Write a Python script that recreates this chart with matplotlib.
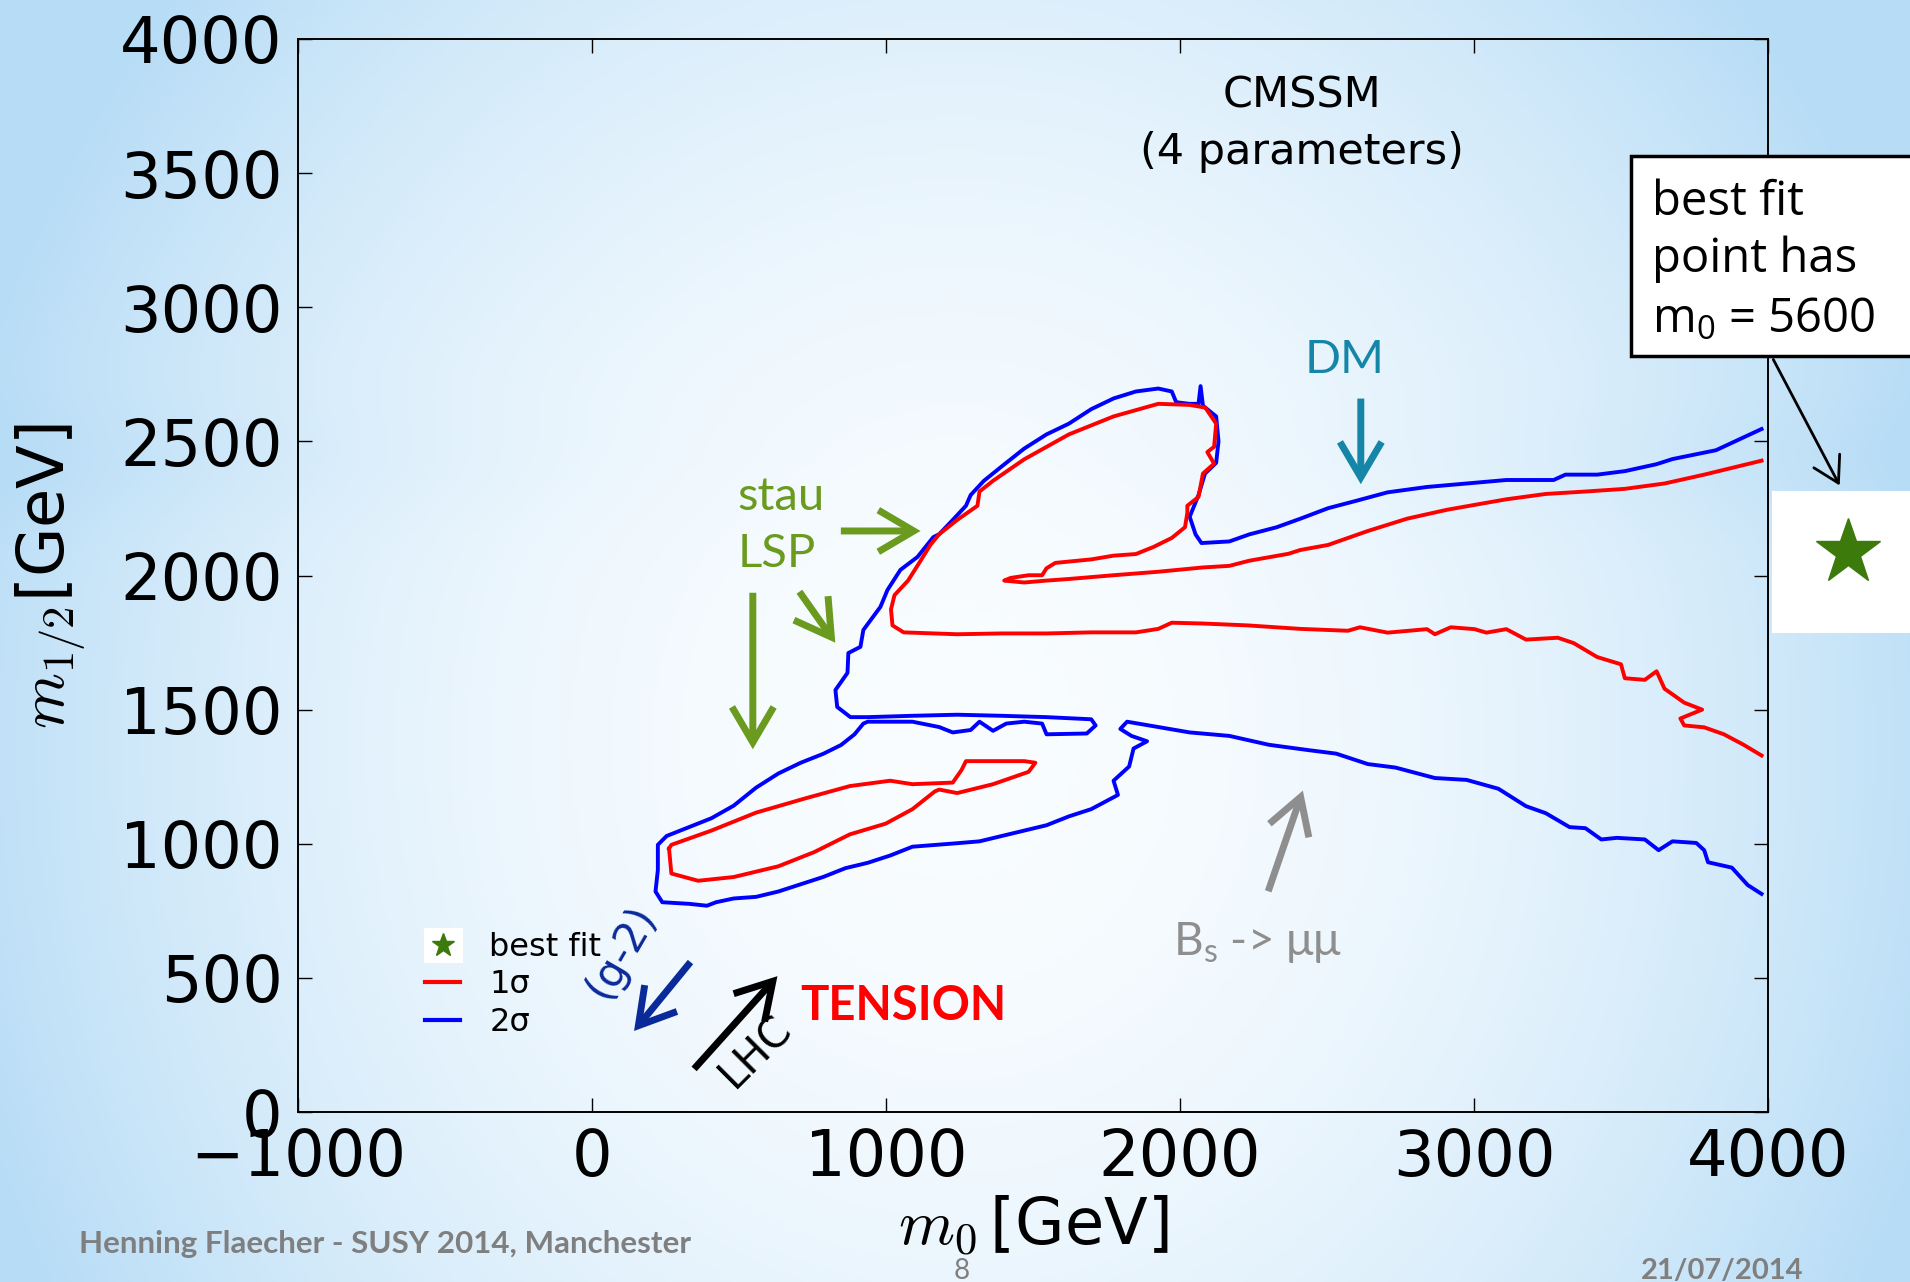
import matplotlib.pyplot as plt
import numpy as np
from matplotlib.patches import Rectangle, FancyArrowPatch
from matplotlib.lines import Line2D

# 2 sigma contour, one open line: upper right edge -> round the islands -> lower right edge
blue_pts = [(3978, 2546), (3823, 2467), (3675, 2434), (3621, 2415), (3513, 2389), (3419, 2376),
            (3311, 2376), (3271, 2356), (3110, 2356), (2975, 2343), (2840, 2330), (2706, 2310),
            (2598, 2278), (2504, 2251), (2410, 2212), (2329, 2180), (2235, 2153), (2168, 2127),
            (2073, 2121), (2053, 2153), (2033, 2219),
            (2063, 2300), (2085, 2380), (2123, 2420), (2131, 2500), (2123, 2593), (2078, 2633),
            (2070, 2706), (2063, 2640), (2032, 2640), (1987, 2646), (1972, 2686), (1926, 2697),
            (1850, 2686), (1774, 2660), (1698, 2620), (1622, 2566), (1546, 2526), (1470, 2473),
            (1394, 2407), (1333, 2353), (1288, 2300), (1272, 2260), (1227, 2207), (1181, 2154),
            (1161, 2143), (1107, 2069), (1049, 2021), (1005, 1946), (981, 1883), (923, 1797),
            (913, 1734), (872, 1711), (869, 1637), (828, 1573), (834, 1510), (879, 1472),
            (938, 1472), (1090, 1477), (1242, 1481), (1394, 1477), (1546, 1472), (1698, 1464),
            (1713, 1441), (1683, 1411), (1546, 1408), (1531, 1448), (1470, 1455), (1409, 1448),
            (1364, 1421), (1318, 1455), (1288, 1424), (1227, 1415), (1181, 1435), (1090, 1455),
            (938, 1455), (923, 1448),
            (893, 1408), (847, 1368), (786, 1335), (710, 1302), (634, 1262), (558, 1209),
            (482, 1142), (406, 1095), (330, 1062), (254, 1029), (224, 996), (224, 902),
            (216, 822), (239, 782), (330, 776), (391, 769), (422, 782), (482, 796), (558, 802),
            (634, 822), (710, 849), (786, 876), (862, 909), (938, 929), (1014, 956), (1090, 989),
            (1242, 1002), (1318, 1009), (1394, 1029), (1470, 1049), (1546, 1069), (1622, 1102),
            (1698, 1129), (1789, 1182), (1774, 1235), (1827, 1288), (1842, 1355), (1888, 1382),
            (1835, 1402), (1797, 1428), (1820, 1455), (1926, 1435), (2033, 1415), (2168, 1402),
            (2302, 1369), (2437, 1349), (2531, 1336), (2639, 1297), (2733, 1284), (2867, 1245),
            (2975, 1238), (3083, 1205), (3177, 1140), (3244, 1114), (3325, 1062), (3379, 1058),
            (3433, 1016), (3486, 1022), (3581, 1016), (3628, 976), (3675, 1009), (3756, 1003),
            (3783, 976), (3796, 931), (3877, 911), (3931, 846), (3978, 813)]

# 1 sigma, open line: upper branch -> tongue -> top loop -> lower edge to the right
red_upper_pts = [(3978, 2428), (3783, 2376), (3648, 2343), (3513, 2323), (3379, 2313), (3244, 2304),
                 (3110, 2284), (3042, 2271), (2908, 2245), (2773, 2212), (2639, 2166), (2504, 2114),
                 (2409, 2095), (2369, 2081), (2235, 2055), (2168, 2036), (2078, 2030), (1926, 2014),
                 (1774, 2001), (1622, 1987), (1546, 1981), (1470, 1974), (1402, 1981),
                 (1424, 1991), (1485, 2001), (1531, 2001), (1546, 2027), (1576, 2047), (1698, 2060),
                 (1774, 2074), (1850, 2080), (1911, 2107), (1972, 2140), (2017, 2180), (2025, 2234),
                 (2025, 2260), (2063, 2293), (2078, 2380), (2116, 2417), (2093, 2460), (2116, 2480),
                 (2123, 2566), (2086, 2626), (2032, 2636), (1926, 2640), (1774, 2593), (1622, 2526),
                 (1470, 2433), (1364, 2353), (1318, 2313), (1311, 2260), (1242, 2207), (1181, 2154),
                 (1151, 2114), (1121, 2061), (1075, 1981), (1029, 1927), (1017, 1874), (1022, 1814),
                 (1060, 1788), (1242, 1781), (1394, 1784), (1546, 1784), (1698, 1788), (1850, 1788),
                 (1926, 1801), (1972, 1824), (2078, 1821), (2230, 1814), (2409, 1801), (2571, 1794),
                 (2612, 1807), (2706, 1787), (2840, 1800), (2867, 1781), (2921, 1807), (3002, 1800),
                 (3042, 1787), (3110, 1800), (3177, 1761), (3285, 1768), (3339, 1748), (3419, 1696),
                 (3500, 1669), (3513, 1617), (3581, 1611), (3621, 1643), (3648, 1578), (3715, 1526),
                 (3776, 1500), (3702, 1467), (3715, 1441), (3783, 1434), (3850, 1408), (3917, 1369),
                 (3978, 1329)]

# 1 sigma, closed island in the stau strip
red_lower_pts = [(262, 982), (270, 889), (361, 862), (482, 876), (634, 916), (756, 969), (877, 1035),
                 (999, 1075), (1090, 1129), (1166, 1195), (1181, 1202), (1242, 1189), (1364, 1222),
                 (1485, 1268), (1508, 1302), (1470, 1308), (1272, 1308), (1257, 1275), (1227, 1228),
                 (1090, 1222), (1014, 1235), (877, 1215), (725, 1169), (558, 1116), (406, 1049),
                 (270, 996), (262, 982)]

xticks = [-1000, 0, 1000, 2000, 3000, 4000]
yticks = [0, 500, 1000, 1500, 2000, 2500, 3000, 3500, 4000]
legend_labels = ['best fit', '1σ', '2σ']

W, H = 1910, 1282
fig = plt.figure(figsize=(W / 100, H / 100), dpi=100)

# slide background gradient
bg = fig.add_axes([0, 0, 1, 1])
yy, xx = np.mgrid[0:1:300j, 0:1:450j]
r = np.sqrt(((xx - 0.5) / 0.54) ** 2 + ((yy - 0.58) / 0.9) ** 2)
t = np.clip(r, 0, 1) ** 2.0
t = np.clip(t + 0.12 * np.exp(-((yy - 0.36) / 0.05) ** 2) * (np.abs(xx - 0.5) * 2) ** 1.5, 0, 1)
c0 = np.array([0.975, 0.99, 1.0])
c1 = np.array([0.72, 0.865, 0.965])
img = c0 * (1 - t[..., None]) + c1 * t[..., None]
bg.imshow(img, extent=[0, 1, 0, 1], aspect='auto', origin='upper')
bg.axis('off')

ax = fig.add_axes([298 / W, 1 - 1112 / H, 1470 / W, 1073 / H])
ax.set_facecolor('none')

bx, by = np.array(blue_pts).T
rx, ry = np.array(red_upper_pts).T
lx, ly = np.array(red_lower_pts).T
ax.plot(bx, by, color='blue', lw=2.8, solid_joinstyle='round')
ax.plot(rx, ry, color='red', lw=2.8, solid_joinstyle='round')
ax.plot(lx, ly, color='red', lw=2.8, solid_joinstyle='round')

ax.set_xlim(-1000, 4000)
ax.set_ylim(0, 4000)
ax.set_xticks(xticks)
ax.set_yticks(yticks)
ax.tick_params(direction='in', length=10, width=1, top=True, right=True,
               labelsize=46, pad=11)
for s in ax.spines.values():
    s.set_linewidth(1.4)

ax.set_xlabel(r'$m_0\,$[GeV]', fontsize=46, math_fontfamily='cm')
ax.set_ylabel(r'$m_{1/2}$[GeV]', fontsize=46, math_fontfamily='cm')
ax.xaxis.set_label_coords(0.5, -0.076)
ax.yaxis.set_label_coords(-0.143, 0.5)

# legend
star_h = Line2D([], [], ls='none', marker='*', color='#3c7a0c', markersize=17)
h1 = Line2D([], [], color='red', lw=3)
h2 = Line2D([], [], color='blue', lw=3)
ax.add_patch(Rectangle((0.0857, 0.139), 0.0265, 0.0325, transform=ax.transAxes,
                       facecolor='white', edgecolor='none', zorder=4))
ax.legend([star_h, h1, h2], legend_labels, loc='upper left', bbox_to_anchor=(0.0866, 0.168),
          frameon=False, fontsize=23, handlelength=1.1, handletextpad=0.9,
          labelspacing=0.21, borderpad=0, borderaxespad=0)


def arrow(p0, p1, color, lw=5, hl=0.85, hw=0.5):
    ax.add_patch(FancyArrowPatch(p0, p1, arrowstyle=f'->,head_length={hl},head_width={hw}',
                                 mutation_scale=30, color=color, lw=lw, clip_on=False,
                                 joinstyle='miter', capstyle='butt', zorder=6))


green = '#6a9a1e'
ax.text(494, 2244, 'stau', color=green, fontsize=34, family='Lato')
ax.text(494, 2032, 'LSP', color=green, fontsize=34, family='Lato')
arrow((837, 2166), (1127, 2166), green)
arrow((700, 1948), (833, 1741), green)
arrow((547, 1946), (547, 1342), green)

teal = '#1586a8'
ax.text(2560, 2755, 'DM', color=teal, fontsize=34, family='Lato', ha='center')
arrow((2615, 2670), (2615, 2330), teal)

gray = '#8e8e8e'
arrow((2297, 813), (2421, 1208), gray)
ax.text(1975, 585, r'B$_\mathregular{s}$ -> μμ', color=gray, fontsize=33, family='Lato')

navy = '#0a2a9a'
ax.text(99, 596, '(g-2)', color=navy, fontsize=30, rotation=60, ha='center', va='center')
arrow((341, 567), (137, 294), navy)

arrow((341, 153), (637, 514), 'black')
ax.text(556, 224, 'LHC', color='black', fontsize=30, rotation=45, ha='center', va='center')
ax.text(709, 343, 'TENSION', color='#ff0000', fontsize=34, family='Lato', weight='bold')

ax.text(2414, 3746, 'CMSSM', fontsize=31, ha='center')
ax.text(2414, 3534, '(4 parameters)', fontsize=31, ha='center')

# best-fit box outside the plot
fig.patches.append(Rectangle((1631 / W, 1 - 356 / H), 0.2, 200 / H, transform=fig.transFigure,
                             facecolor='white', edgecolor='black', lw=2.5, zorder=5))
for txt, yb in [('best fit', 215), ('point has', 272), (r'm$_\mathregular{0}$ = 5600', 333)]:
    fig.text(1652 / W, 1 - yb / H, txt, fontsize=34, va='baseline', zorder=6,
             family='Open Sans')
fig.patches.append(Rectangle((1772 / W, 1 - 633 / H), 0.2, 142 / H, transform=fig.transFigure,
                             facecolor='white', edgecolor='none', zorder=5))
fig.lines.append(Line2D([1848 / W], [1 - 552 / H], transform=fig.transFigure, ls='none',
                        marker='*', color='#3c7a0c', markersize=49, zorder=6))
fig.patches.append(FancyArrowPatch((1772 / W, 1 - 357 / H), (1841 / W, 1 - 488 / H),
                                   transform=fig.transFigure, arrowstyle='->,head_length=0.6,head_width=0.35',
                                   mutation_scale=30, color='black', lw=2, zorder=6))

# footer
fig.text(79 / W, 1 - 1253 / H, 'Henning Flaecher - SUSY 2014, Manchester', fontsize=22.6,
         family='Lato', weight='bold', color='#7f7f7f')
fig.text(1641 / W, 1 - 1279 / H, '21/07/2014', fontsize=21, family='Lato', weight='bold',
         color='#7f7f7f')
fig.text(962 / W, 1 - 1279 / H, '8', fontsize=20, family='Lato', color='#7f7f7f', ha='center')

fig.savefig('out.png', dpi=100)
